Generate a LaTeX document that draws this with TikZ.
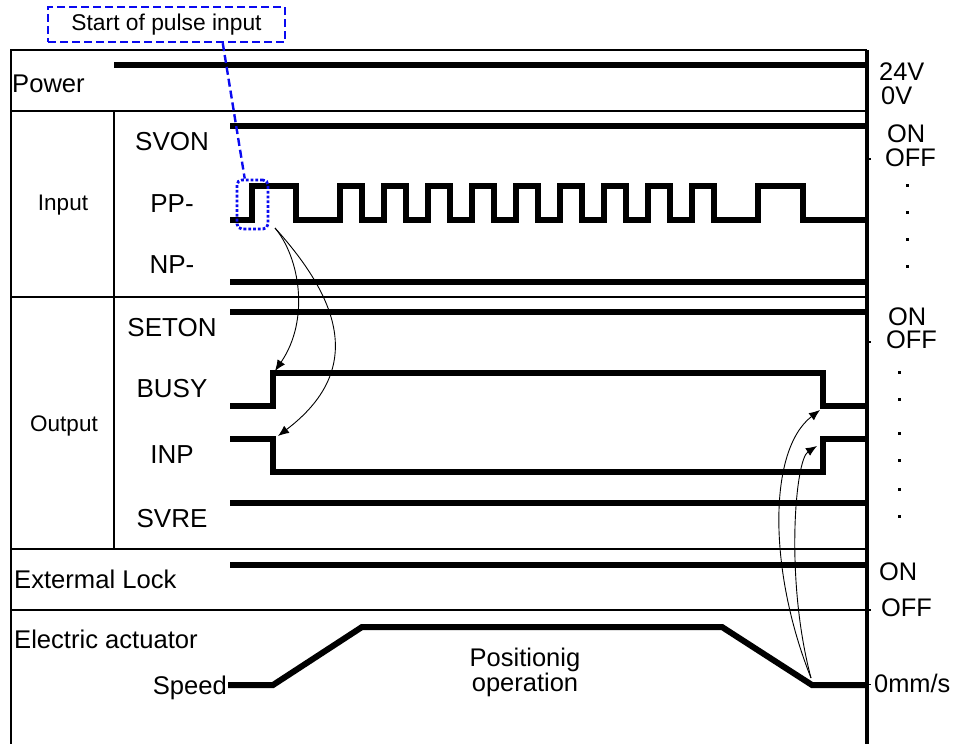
\documentclass[tikz,border=0pt]{standalone}
\usepackage{fontspec}
\setmainfont{Liberation Sans}
\usetikzlibrary{arrows.meta,positioning,calc}
\definecolor{Ink}{HTML}{000000}
\definecolor{Cue}{HTML}{0A0AF0}
\tikzset{
  frame/.style={draw=Ink,line width=2.4pt},
  divider/.style={draw=Ink,line width=1.8pt},
  wave/.style={draw=Ink,line width=6pt},
  sigtag/.style={font=\fontsize{26}{28}\selectfont,inner sep=0pt,anchor=base},
  grouptag/.style={font=\fontsize{22.5}{26}\selectfont,inner sep=0pt,anchor=base},
  rowtag/.style={font=\fontsize{25.6}{28}\selectfont,inner sep=0pt,anchor=base west},
  leveltag/.style={font=\fontsize{25.4}{28}\selectfont,inner sep=0pt,anchor=base west,text height=18pt,text depth=0pt},
  cause/.style={-{Latex[length=11pt,width=9pt]},draw=Ink,line width=.9pt},
  callout/.style={draw=Cue,line width=2.4pt,dash pattern=on 8pt off 4pt,font=\fontsize{22.8}{24}\selectfont,minimum width=237pt,minimum height=35pt,inner sep=0pt},
  pointer/.style={draw=Cue,line width=2.4pt,dash pattern=on 8pt off 4pt},
  spot/.style={draw=Cue,line width=2.8pt,dash pattern=on 2.8pt off 2pt,rounded corners=5pt,minimum width=31pt,minimum height=49pt,inner sep=0pt}
}

\begin{document}
\begin{tikzpicture}[x=1pt,y=-1pt]
  \useasboundingbox (0,0) rectangle (964,744);
  % table frame
  \draw[frame] (11,744) -- (11,50) -- (867,50);
  \draw[frame,line width=3.2pt] (867,50) -- (867,744);
  \foreach \y in {111,297,549} \draw[divider] (11,\y) -- (867,\y);
  \draw[divider] (11,610) -- (871,610);
  \draw[divider] (114,111) -- (114,549);
  \draw[divider] (867,159) -- (871,159);
  \draw[divider] (867,342) -- (871,342);
  \draw[divider,line width=1pt] (867,684) -- (871,684);

  % row labels
  \node[rowtag] (power) at (12,92) {Power};
  \node[grouptag] (grpin) at (63,210) {Input};
  \node[grouptag] (grpout) at (64,431) {Output};
  \node[sigtag] (svon) at (172,150) {SVON};
  \node[sigtag] (pp) at (172,212) {PP-};
  \node[sigtag] (np) at (172,273) {NP-};
  \node[sigtag] (seton) at (172,336) {SETON};
  \node[sigtag] (busy) at (172,397) {BUSY};
  \node[sigtag] (inp) at (172,463) {INP};
  \node[sigtag] (svre) at (172,527) {SVRE};
  \node[rowtag] (lock) at (14,588) {Extermal Lock};
  \node[rowtag] (actuator) at (14,648) {Electric actuator};
  \node[rowtag,anchor=base east] (speed) at (227,694) {Speed};

  % level labels
  \node[leveltag] (v24) at (879,80) {24V};
  \node[leveltag] (v0) at (881,104) {0V};
  \node[leveltag] (inon) at (887,142) {ON};
  \node[leveltag] (inoff) at (885,166) {OFF};
  \node[leveltag] (outon) at (888,325) {ON};
  \node[leveltag] (outoff) at (886,348) {OFF};
  \node[leveltag] (lockon) at (879,580) {ON};
  \node[leveltag] (lockoff) at (881,616) {OFF};
  \node[leveltag] (zero) at (874,692) {0mm/s};
  \foreach \y in {184,211,238,265} \fill[Ink] (906,\y) rectangle +(3.2,3.2);
  \foreach \y in {371,398,432,459,488,515} \fill[Ink] (898,\y) rectangle +(3.2,3.2);

  % signals
  \draw[wave] (114,65) -- (867,65);
  \draw[wave] (230,126) -- (867,126);
  \draw[wave] (230,220) foreach \u/\d in {252/296,340/362,384/406,428/450,472/494,516/538,560/582,604/626,648/670,692/714,758/803}
    { -- (\u,220) -- (\u,186) -- (\d,186) -- (\d,220) } -- (867,220);
  \draw[wave] (230,282) -- (867,282);
  \draw[wave] (230,312) -- (867,312);
  \draw[wave] (230,406) -- (273,406) -- (273,373) -- (823,373) -- (823,406) -- (867,406);
  \draw[wave] (230,439) -- (273,439) -- (273,472) -- (823,472) -- (823,439) -- (867,439);
  \draw[wave] (230,503) -- (867,503);
  \draw[wave] (230,565) -- (867,565);
  \coordinate (spdlow) at (228,685);
  \draw[wave] (spdlow) -- (273,685) -- (362,627) -- (722,627) -- (812,685) -- (867,685);
  \node[sigtag,align=center,anchor=north,font=\fontsize{25.5}{23}\selectfont] (move) at (525,648) {Positionig\\operation};

  % pulse start callout
  \node[spot] (edge) at (252.5,204.5) {};
  \node[callout] (start) at (166.5,24.5) {Start of pulse input};
  \draw[pointer] ($(start.south west)!.735!(start.south east)$) -- ($(edge.north west)!.27!(edge.north east)$);

  % cause arrows
  \coordinate (ppfall) at (275,228);
  \coordinate (busyup) at (275,371);
  \coordinate (inpdown) at (278,436);
  \coordinate (stop) at (811,678);
  \coordinate (busydown) at (820,410);
  \coordinate (inpup) at (817,446);
  \draw[cause] (ppfall) .. controls (300,258) and (310,320) .. (busyup);
  \draw[cause] (ppfall) .. controls (340,300) and (365,370) .. (inpdown);
  \draw[cause] (stop) .. controls (768,570) and (768,450) .. (busydown);
  \draw[cause] (stop) .. controls (785,580) and (795,460) .. (inpup);
\end{tikzpicture}
\end{document}
